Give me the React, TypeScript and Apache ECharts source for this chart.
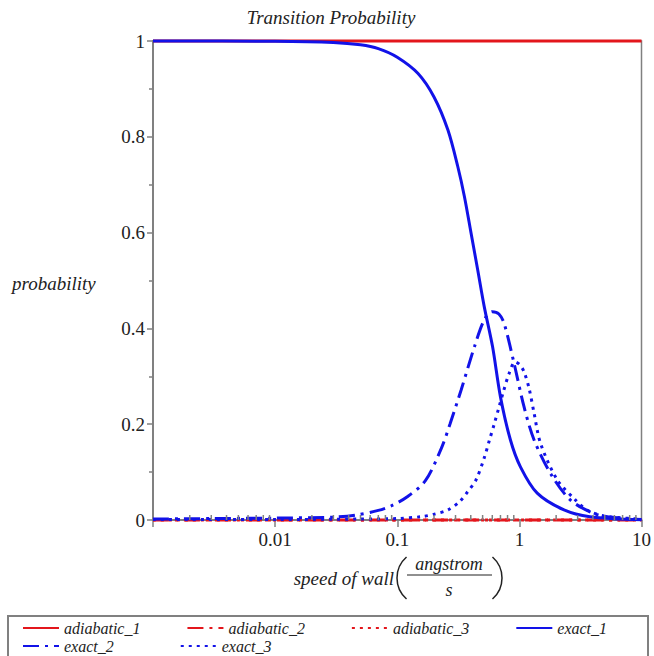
import React, { useEffect, useRef } from "react";
import * as echarts from "echarts";

const RED = "#e3161c";
const BLUE = "#1212e8";
const TEXT = "#222";
const AXIS = "#808080";
const SERIF = '"Liberation Serif", "Times New Roman", serif';

const adiabaticX = [0.001, 10];
const adiabatic1Y = [1, 1];
const adiabatic2Y = [0, 0];
const adiabatic3Y = [0, 0];

const exact1X = [0.001, 0.01, 0.03, 0.05, 0.07, 0.1, 0.148, 0.2, 0.26, 0.313, 0.355, 0.402, 0.456, 0.516, 0.603, 0.7, 0.845, 1.02, 1.4, 2.32, 3.78, 10];
const exact1Y = [1, 0.9995, 0.997, 0.992, 0.984, 0.966, 0.932, 0.883, 0.814, 0.738, 0.675, 0.599, 0.522, 0.445, 0.362, 0.257, 0.167, 0.111, 0.056, 0.021, 0.007, 0.0005];

const exact2X = [0.001, 0.003, 0.01, 0.03, 0.045, 0.07, 0.09, 0.12, 0.17, 0.23, 0.27, 0.333, 0.429, 0.516, 0.6, 0.68, 0.751, 0.905, 1.09, 1.32, 1.8, 2.61, 4.05, 6, 10];
const exact2Y = [0.002, 0.003, 0.004, 0.006, 0.01, 0.02, 0.03, 0.048, 0.082, 0.15, 0.2, 0.271, 0.362, 0.418, 0.435, 0.43, 0.41, 0.327, 0.237, 0.167, 0.097, 0.042, 0.014, 0.005, 0.001];

const exact3X = [0.001, 0.01, 0.05, 0.1, 0.158, 0.2, 0.26, 0.323, 0.377, 0.442, 0.516, 0.566, 0.622, 0.68, 0.74, 0.824, 0.92, 1.0, 1.09, 1.2, 1.32, 1.49, 2.04, 2.87, 3.57, 5, 10];
const exact3Y = [0.001, 0.001, 0.002, 0.003, 0.007, 0.012, 0.021, 0.038, 0.059, 0.084, 0.13, 0.165, 0.2, 0.235, 0.268, 0.306, 0.33, 0.325, 0.31, 0.275, 0.223, 0.16, 0.084, 0.042, 0.021, 0.008, 0.002];

const minorTickValues = [
  0.002, 0.003, 0.004, 0.005, 0.006, 0.007, 0.008, 0.009,
  0.02, 0.03, 0.04, 0.05, 0.06, 0.07, 0.08, 0.09,
  0.2, 0.3, 0.4, 0.5, 0.6, 0.7, 0.8, 0.9,
  2, 3, 4, 5, 6, 7, 8, 9,
];

const legendRow1 = ["adiabatic_1", "adiabatic_2", "adiabatic_3", "exact_1"];
const legendRow2 = ["exact_2", "exact_3"];

const DASHDOT = [16, 6, 3, 6];
const DOT = [3, 5];

const pairs = (xs: number[], ys: number[]) => xs.map((x, i) => [x, ys[i]]);

export default function App() {
  const ref = useRef<HTMLDivElement>(null);
  useEffect(() => {
    if (!ref.current) return;
    const chart = echarts.init(ref.current, undefined, { renderer: "svg" });
    const mkLine = (name: string, xs: number[], ys: number[], color: string, type: any) => ({
      name,
      type: "line",
      data: pairs(xs, ys),
      showSymbol: false,
      symbol: "none",
      smooth: 0.3,
      clip: false,
      lineStyle: { color, width: 3, type, cap: "butt" },
      itemStyle: { color },
      z: 3,
    });
    const legendText = { fontSize: 16, fontStyle: "italic", fontFamily: SERIF, color: TEXT, lineHeight: 18 };
    const legendCommon = {
      left: 20,
      itemWidth: 36,
      itemHeight: 12,
      selectedMode: false,
      padding: 2,
      textStyle: legendText,
      itemStyle: { opacity: 0, borderWidth: 0 },
    };
    chart.setOption({
      animation: false,
      backgroundColor: "#fff",
      grid: { left: 153, right: 9, top: 41, bottom: 136, show: true, borderColor: AXIS, borderWidth: 1.5 },
      xAxis: {
        type: "log",
        logBase: 10,
        min: 0.001,
        max: 10,
        axisLine: { show: true, lineStyle: { color: AXIS, width: 2 } },
        axisTick: { show: true, length: 7, lineStyle: { color: AXIS, width: 1.5 } },
        splitLine: { show: false },
        axisLabel: {
          fontSize: 19,
          fontFamily: SERIF,
          color: TEXT,
          margin: 10,
          formatter: (v: number) => (v < 0.005 ? "" : String(parseFloat(v.toPrecision(3)))),
        },
      },
      yAxis: {
        type: "value",
        min: 0,
        max: 1,
        interval: 0.2,
        axisLine: { show: true, lineStyle: { color: AXIS, width: 2 } },
        axisTick: { show: true, length: 6, lineStyle: { color: AXIS, width: 1.5 } },
        minorTick: { show: true, splitNumber: 2, length: 4, lineStyle: { color: AXIS, width: 1.5 } },
        splitLine: { show: false },
        axisLabel: { fontSize: 19, fontFamily: SERIF, color: TEXT, margin: 8 },
      },
      legend: [
        { ...legendCommon, data: legendRow1, top: 617, itemGap: 46 },
        { ...legendCommon, data: legendRow2, top: 635, itemGap: 66 },
      ],
      series: [
        mkLine("adiabatic_1", adiabaticX, adiabatic1Y, RED, "solid"),
        mkLine("adiabatic_2", adiabaticX, adiabatic2Y, RED, DASHDOT),
        mkLine("adiabatic_3", adiabaticX, adiabatic3Y, RED, DOT),
        mkLine("exact_1", exact1X, exact1Y, BLUE, "solid"),
        mkLine("exact_2", exact2X, exact2Y, BLUE, DASHDOT),
        mkLine("exact_3", exact3X, exact3Y, BLUE, DOT),
        {
          name: "minorTicks",
          type: "custom",
          silent: true,
          clip: false,
          z: 5,
          data: minorTickValues.map((v) => [v, 0]),
          renderItem: (params: any, api: any) => {
            const p = api.coord([api.value(0), 0]);
            return {
              type: "line",
              shape: { x1: p[0], y1: p[1], x2: p[0], y2: p[1] - 5 },
              style: { stroke: AXIS, lineWidth: 1.5 },
            };
          },
        },
      ],
      graphic: [
        {
          type: "text",
          x: 331,
          y: 17,
          style: { text: "Transition Probability", fontSize: 19, fontStyle: "italic", fontFamily: SERIF, fill: TEXT, align: "center", verticalAlign: "middle" },
        },
        {
          type: "text",
          x: 12,
          y: 283,
          style: { text: "probability", fontSize: 19, fontStyle: "italic", fontFamily: SERIF, fill: TEXT, align: "left", verticalAlign: "middle" },
        },
        {
          type: "text",
          x: 394,
          y: 578,
          style: { text: "speed of wall", fontSize: 19, fontStyle: "italic", fontFamily: SERIF, fill: TEXT, align: "right", verticalAlign: "middle" },
        },
        {
          type: "arc",
          shape: { cx: 425, cy: 578, r: 28, startAngle: Math.PI - 0.85, endAngle: Math.PI + 0.85 },
          style: { stroke: TEXT, lineWidth: 1.5, fill: "none" },
        },
        {
          type: "arc",
          shape: { cx: 474, cy: 578, r: 28, startAngle: -0.85, endAngle: 0.85 },
          style: { stroke: TEXT, lineWidth: 1.5, fill: "none" },
        },
        {
          type: "text",
          x: 449,
          y: 564,
          style: { text: "angstrom", fontSize: 18, fontStyle: "italic", fontFamily: SERIF, fill: TEXT, align: "center", verticalAlign: "middle" },
        },
        {
          type: "line",
          shape: { x1: 407, y1: 575, x2: 492, y2: 575 },
          style: { stroke: TEXT, lineWidth: 1.2 },
        },
        {
          type: "text",
          x: 449,
          y: 590,
          style: { text: "s", fontSize: 18, fontStyle: "italic", fontFamily: SERIF, fill: TEXT, align: "center", verticalAlign: "middle" },
        },
        {
          type: "rect",
          shape: { x: 8, y: 616, width: 640, height: 50 },
          style: { stroke: AXIS, lineWidth: 2, fill: "none" },
          z: -1,
        },
      ],
    });
    return () => chart.dispose();
  }, []);
  return (
    <div
      ref={ref}
      style={{ position: "fixed", left: 0, top: 0, width: 654, height: 656, background: "#fff" }}
    />
  );
}
